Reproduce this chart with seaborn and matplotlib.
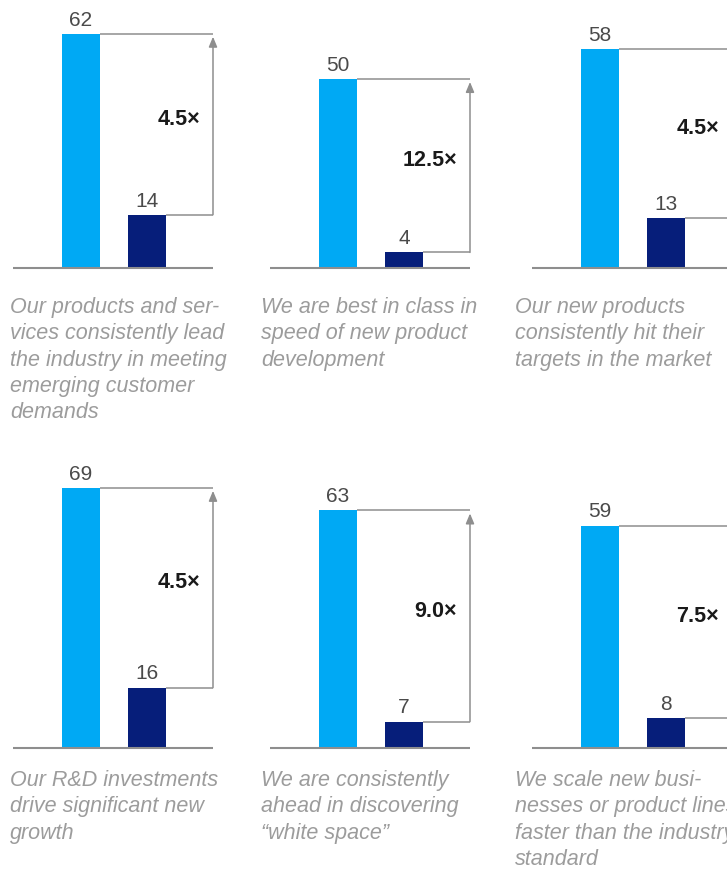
import matplotlib
matplotlib.use("Agg")
import matplotlib.pyplot as plt
import seaborn as sns
import pandas as pd

# Survey results: share of respondents agreeing, leaders vs. everyone else
groups = ["Leaders", "Others"]
leader_values = [62, 50, 58, 69, 63, 59]
other_values = [14, 4, 13, 16, 7, 8]
multipliers = ["4.5×", "12.5×", "4.5×", "4.5×", "9.0×", "7.5×"]
statements = [
    "Our products and ser-\nvices consistently lead\nthe industry in meeting\nemerging customer\ndemands",
    "We are best in class in\nspeed of new product\ndevelopment",
    "Our new products\nconsistently hit their\ntargets in the market",
    "Our R&D investments\ndrive significant new\ngrowth",
    "We are consistently\nahead in discovering\n\u201cwhite space\u201d",
    "We scale new busi-\nnesses or product lines\nfaster than the industry\nstandard",
]

LIGHT = "#00A9F4"
DARK = "#061E7A"
LINE = "#8e8e8e"

sns.set_style("white")
plt.rcParams["font.family"] = ["Liberation Sans", "DejaVu Sans"]

W, H = 727, 869
fig = plt.figure(figsize=(W / 100, H / 100), dpi=100)
fig.patch.set_facecolor("white")

panel_left = [13, 270, 532]       # left end of each baseline (px)
caption_left = [10, 261, 515]     # left edge of each caption (px)
row_base = [267.5, 748]           # baseline of each row (px from top)
caption_first = [313, 786]        # first caption baseline (px from top)
px_per_unit = 3.771
ymax = 70
panel_w = 200
cat_gap = 66.0                    # px between the two bar centres
first_center = 68.0               # px from panel left to first bar centre

for i in range(6):
    row, col = divmod(i, 3)
    L = panel_left[col]
    B = row_base[row]
    ax_h = ymax * px_per_unit
    ax = fig.add_axes([L / W, (H - B) / H, panel_w / W, ax_h / H])

    big, small = leader_values[i], other_values[i]
    df = pd.DataFrame({"group": groups, "value": [big, small]})
    sns.barplot(data=df, x="group", y="value", hue="group",
                palette=[LIGHT, DARK], width=38 / cat_gap, dodge=False,
                legend=False, saturation=1, linewidth=0, ax=ax, zorder=2)

    x_left = -first_center / cat_gap
    x_right = (panel_w - first_center) / cat_gap
    ax.set_xlim(x_left, x_right)
    ax.set_ylim(0, ymax)
    ax.axis("off")

    # baseline
    ax.plot([x_left, x_right], [0, 0], color=LINE, lw=1.5,
            solid_capstyle="butt", clip_on=False, zorder=3)

    # value labels above bars
    for xi, v in enumerate([big, small]):
        ax.annotate(str(v), (xi, v), xytext=(0, 3), textcoords="offset points",
                    ha="center", va="bottom", fontsize=15, color="#4a4a4a")

    # connector lines and the ratio arrow
    half = 19 / cat_gap
    ax.plot([half, x_right], [big, big], color=LINE, lw=1.1, clip_on=False,
            solid_capstyle="butt", zorder=1)
    ax.plot([1 + half, x_right], [small, small], color=LINE, lw=1.1,
            clip_on=False, solid_capstyle="butt", zorder=1)
    ax.annotate("", xy=(x_right, big - 0.8), xytext=(x_right, small),
                arrowprops=dict(arrowstyle="-|>,head_length=0.6,head_width=0.25",
                                color=LINE, lw=1.1, shrinkA=0, shrinkB=0),
                annotation_clip=False)

    ax.text(x_right - 13 / cat_gap, (big + small) / 2 + 1.3, multipliers[i],
            ha="right", va="center", fontsize=15.5, fontweight="bold",
            color="#1a1a1a")

    # caption below the panel
    for k, line in enumerate(statements[i].split("\n")):
        y_px = caption_first[row] + 26.3 * k
        fig.text(caption_left[col] / W, 1 - y_px / H, line, ha="left",
                 va="baseline", fontsize=15.5, fontstyle="italic",
                 color="#9c9c9c")

fig.savefig("out.png", dpi=100, facecolor="white")
